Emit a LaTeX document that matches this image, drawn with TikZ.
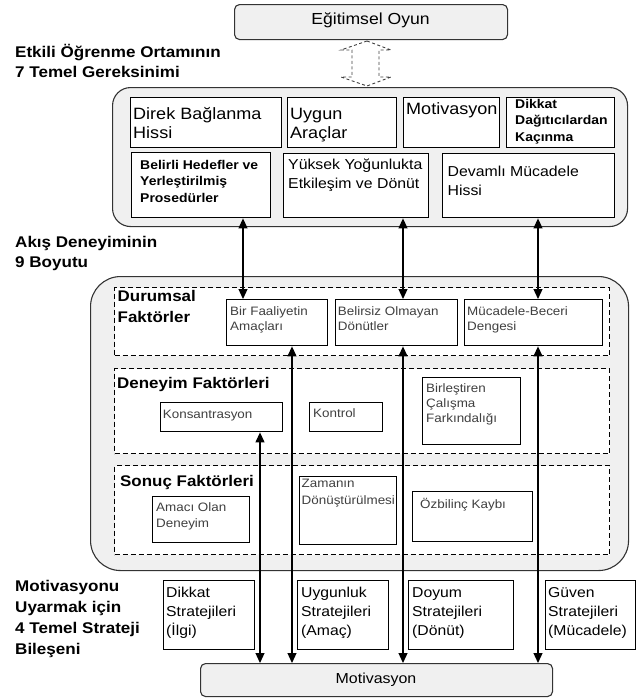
\documentclass[tikz,border=0pt]{standalone}
\usepackage{fontspec}
\setmainfont{Liberation Sans}[FakeStretch=1.1]
\usetikzlibrary{arrows.meta,calc}
\newcommand{\fs}[2]{\fontsize{#1pt}{#2pt}\selectfont}
\newcommand{\tl}[1]{\begin{tabular}[t]{@{}l@{}}#1\end{tabular}}
\newcommand{\bxn}[6][bx]{\node[#1, minimum width={#5-#3}, minimum height={#6-#4}] (#2) at (#3,#4) {};}
\tikzset{
  bx/.style={draw=black, line width=1.4pt, fill=white, inner sep=0pt, anchor=north west},
  rbx/.style={draw=black!80, line width=1.1pt, fill=black!6, inner sep=0pt, anchor=north west},
  dbx/.style={draw=black, line width=1.4pt, dash pattern=on 5pt off 3pt, fill=white, inner sep=0pt, anchor=north west},
  tx/.style={anchor=base west, inner sep=0pt},
  ftx/.style={tx, text=black!75, font=\fs{12.2}{15.5}},
  stx/.style={tx, font=\fs{14.3}{19}},
  lbl/.style={tx, font=\bfseries\fs{15.5}{20}},
  flbl/.style={tx, font=\bfseries\fs{15.4}{21}},
  arr/.style={line width=1.2pt, {Triangle[width=9pt,length=10pt]}-{Triangle[width=9pt,length=10pt]}},
}
\begin{document}
\begin{tikzpicture}[x=1pt,y=-1pt]
\useasboundingbox (0,0) rectangle (637,699);
% big containers
\bxn[rbx, rounded corners=5pt]{egitim}{234}{4}{507}{39}
\bxn[rbx, rounded corners=18pt]{gerek}{112}{87}{627}{226}
\bxn[rbx, rounded corners=30pt]{akis}{90}{276}{628}{570}
\bxn[rbx, rounded corners=5pt]{motbox}{200}{663}{552}{696}
% top requirement boxes
\bxn{direk}{130}{97}{281}{147}
\bxn{uygun}{287}{97}{396}{147}
\bxn{motiv}{403}{97}{499}{147}
\bxn{dikkat}{506}{97}{614}{147}
\bxn{belirli}{131}{152}{270}{217}
\bxn{yuksek}{283}{153}{428}{217}
\bxn{devamli}{442}{153}{614}{217}
% dashed groups
\bxn[dbx]{durumsal}{114}{287}{609}{355}
\bxn[dbx]{deneyim}{114}{368}{609}{453}
\bxn[dbx]{sonuc}{114}{465}{609}{554}
% flow boxes
\bxn{bir}{226}{299}{327}{345}
\bxn{belirsiz}{335}{299}{457}{345}
\bxn{mucadele}{464}{299}{602}{345}
\bxn{kons}{160}{402}{282}{431}
\bxn{kontrol}{309}{402}{382}{431}
\bxn{birles}{422}{377}{520}{444}
\bxn{amaci}{152}{496}{249}{542}
\bxn{zaman}{299}{476}{396}{544}
\bxn{ozbil}{412}{491}{532}{541}
% strategy boxes
\bxn{sdikkat}{163}{580}{254}{649}
\bxn{suygun}{297}{580}{388}{649}
\bxn{sdoyum}{408}{580}{513}{649}
\bxn{sguven}{545}{580}{635}{649}
% texts
\node[tx, anchor=base, font=\fs{16}{19}] (egitim-t) at (370.5,24) {Eğitimsel Oyun};
\node[lbl] (l1) at (15,57) {\tl{Etkili Öğrenme Ortamının\\7 Temel Gereksinimi}};
\node[lbl] (l2) at (15,247) {\tl{Akış Deneyiminin\\9 Boyutu}};
\node[lbl, font=\bfseries\fs{15.5}{21}] (l3) at (15,591) {\tl{Motivasyonu\\Uyarmak için\\4 Temel Strateji\\Bileşeni}};
\node[tx, font=\fs{16.4}{19}] (direk-t) at (133,119.5) {\tl{Direk Bağlanma\\Hissi}};
\node[tx, font=\fs{16.4}{19}] (uygun-t) at (290,119.5) {\tl{Uygun\\Araçlar}};
\node[tx, font=\fs{16.4}{19}] (motiv-t) at (406,114) {Motivasyon};
\node[tx, font=\bfseries\fs{12.7}{16.5}] (dikkat-t) at (515,108) {\tl{Dikkat\\Dağıtıcılardan\\Kaçınma}};
\node[tx, font=\bfseries\fs{12.7}{16.5}] (belirli-t) at (140,169) {\tl{Belirli Hedefler ve\\Yerleştirilmiş\\Prosedürler}};
\node[tx, font=\fs{14.4}{19}] (yuksek-t) at (288,169) {\tl{Yüksek Yoğunlukta\\Etkileşim ve Dönüt}};
\node[tx, font=\fs{14.4}{19}] (devamli-t) at (447.5,176) {\tl{Devamlı Mücadele\\Hissi}};
\node[flbl] (durumsal-t) at (117.5,301) {\tl{Durumsal\\Faktörler}};
\node[flbl] (deneyim-t) at (117,388.5) {Deneyim Faktörleri};
\node[flbl] (sonuc-t) at (120,486.5) {Sonuç Faktörleri};
\node[ftx] (bir-t) at (230,315) {\tl{Bir Faaliyetin\\Amaçları}};
\node[ftx] (belirsiz-t) at (337.7,315) {\tl{Belirsiz Olmayan\\Dönütler}};
\node[ftx] (mucadele-t) at (467,315) {\tl{Mücadele-Beceri\\Dengesi}};
\node[ftx] (kons-t) at (162.7,418) {Konsantrasyon};
\node[ftx] (kontrol-t) at (313,417) {Kontrol};
\node[ftx, font=\fs{12.2}{15}] (birles-t) at (426,392.7) {\tl{Birleştiren\\Çalışma\\Farkındalığı}};
\node[ftx] (amaci-t) at (156,511.7) {\tl{Amacı Olan\\Deneyim}};
\node[ftx, font=\fs{12.2}{17}] (zaman-t) at (301.5,487.5) {\tl{Zamanın\\Dönüştürülmesi}};
\node[ftx] (ozbil-t) at (420,508) {Özbilinç Kaybı};
\node[stx] (sdikkat-t) at (166,597) {\tl{Dikkat\\Stratejileri\\(İlgi)}};
\node[stx] (suygun-t) at (301,597) {\tl{Uygunluk\\Stratejileri\\(Amaç)}};
\node[stx] (sdoyum-t) at (412,597) {\tl{Doyum\\Stratejileri\\(Dönüt)}};
\node[stx] (sguven-t) at (548,597) {\tl{Güven\\Stratejileri\\(Mücadele)}};
\node[tx, anchor=base, font=\fs{14.5}{18}] (motbox-t) at (376,683.3) {Motivasyon};
% hollow dashed double arrow between Eğitimsel Oyun and the requirements
\draw[draw=black!75, line width=0.9pt, dash pattern=on 3pt off 2.5pt]
  (367,41) -- (391,50) -- (379,50) -- (379,77) -- (391,77) -- (367,86)
  -- (341,77) -- (352,77) -- (352,50) -- (341,50) -- cycle;
% connectors
\coordinate (xa) at (243,0);
\coordinate (xb) at (403,0);
\coordinate (xc) at (538,0);
\coordinate (xd) at (260,0);
\coordinate (xe) at (292,0);
\draw[arr] (belirli.south -| xa) -- (bir.north -| xa);
\draw[arr] (yuksek.south -| xb) -- (belirsiz.north -| xb);
\draw[arr] (devamli.south -| xc) -- (mucadele.north -| xc);
\draw[arr] (kons.south -| xd) -- (motbox.north -| xd);
\draw[arr] (bir.south -| xe) -- (motbox.north -| xe);
\draw[arr] (belirsiz.south -| xb) -- (motbox.north -| xb);
\draw[arr] (mucadele.south -| xc) -- (motbox.north -| xc);
\end{tikzpicture}
\end{document}
